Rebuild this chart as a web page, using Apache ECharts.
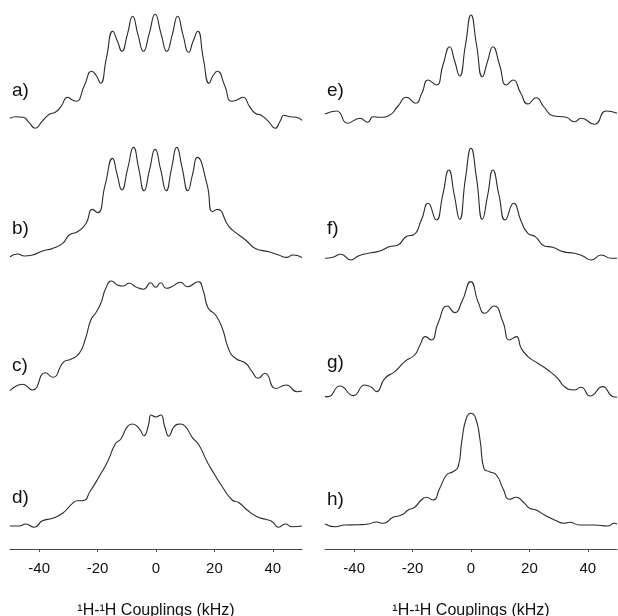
<!DOCTYPE html>
<html>
<head>
<meta charset="utf-8">
<script src="https://cdn.jsdelivr.net/npm/echarts@6/dist/echarts.min.js"></script>
<style>
  html, body { margin: 0; padding: 0; background: #fff; }
  #chart { width: 618px; height: 616px; }
</style>
</head>
<body>
<div id="chart"></div>
<script>
// Frequency axis ticks (kHz)
const tickValues = [-40, -20, 0, 20, 40];
const axisTitle = '\u00b9H-\u00b9H Couplings (kHz)';
const panelLabels = ['a)', 'b)', 'c)', 'd)', 'e)', 'f)', 'g)', 'h)'];

// Spectra: [coupling (kHz), intensity (arb. units)]
const specA = [[-50,0],[-48,1.5],[-45.5,1],[-43.5,-4],[-41.4,-10],[-39,-3],[-36.5,4],[-34.5,6],[-32.5,12],[-30.3,21],[-28.5,18],[-27.3,17],[-24.5,33],[-22,47],[-20.5,43],[-19,35],[-17,60],[-14.8,87],[-13.2,77],[-11.7,67],[-9.8,84],[-8,102],[-6.2,84],[-4.3,67],[-2.3,85],[-0.3,104],[1.7,85],[3.7,67],[5.6,84],[7.4,102],[9.2,84],[11.2,66],[12.7,77],[14.3,87],[16.2,60],[18.2,35],[19.6,43],[21,47],[23.5,33],[25.8,17],[27.5,18],[29.8,21],[32,12],[34,5],[36,3],[38.5,-3],[40.8,-10],[42.5,-3],[43.8,3],[46,1.5],[48,1],[50,-2]];
const specB = [[-50,0],[-47.4,2.7],[-45,0.7],[-42.3,1.7],[-38.9,5.7],[-35.4,8.3],[-32,13.3],[-29.7,21.7],[-26.9,25],[-24,33],[-21.8,47.3],[-20,44],[-17.4,72],[-14.9,98.3],[-13.3,82],[-11.7,66.7],[-9.7,88],[-7.7,109.3],[-5.9,88],[-4.1,66],[-2.2,87],[-0.3,107.3],[1.6,87],[3.5,66],[5.3,88],[7.1,109.3],[9,88],[10.9,66],[12.5,82],[14.1,99.3],[17.5,72],[19.3,45],[21,47.3],[25,30],[28.4,21.7],[30.7,16.7],[34,8.3],[38.6,5],[42,1.7],[44.9,-0.7],[46.8,1.7],[50,-0.7]];
const specC = [[-50,-0.7],[-45.7,5.7],[-42.3,0],[-37.9,17.3],[-35.4,12.7],[-31.5,28.3],[-29.2,30.7],[-26.3,36.7],[-24.3,50],[-22.3,70],[-20.6,77.3],[-18.9,86.7],[-17.2,101.7],[-15.2,109],[-13.2,105],[-11.3,104],[-9.2,106.7],[-7,103.3],[-4.3,100.7],[-1.8,107.3],[-0.1,102.7],[1.6,107.3],[3.5,101.7],[5.4,103.3],[8.4,107.7],[10.7,103.3],[14.5,108.3],[16.1,100],[17.9,81.7],[20.4,75],[22.7,61.7],[25,40],[27.2,31.7],[30.7,26.7],[32.9,18.3],[35,11.7],[37.3,16.7],[41,1.5],[44.6,5],[48.3,-1.7],[50,-1]];
const specD = [[-50,0],[-46.8,0],[-44.6,2],[-41.7,-1.3],[-38.9,5.3],[-35.4,7.7],[-32,12.7],[-28.6,22.7],[-26.9,25.3],[-25.2,25.3],[-22.3,36],[-19.5,49.3],[-16.6,64.3],[-13.8,82.7],[-12.1,86.7],[-9.8,99.3],[-8.1,102],[-5.8,97.7],[-4.1,90.3],[-2.7,99.3],[-1.6,111],[-0.1,109],[1.6,111],[3,99.3],[4.4,90],[6.2,99.3],[8.4,102],[10.1,99.3],[12.4,88.7],[14.7,81],[17.5,64.3],[19.8,52.7],[22.7,39.3],[26.1,26],[28.4,23.3],[31.2,16],[34.6,9.3],[37.5,6.7],[39.8,4.3],[42,-1.3],[44.3,2],[46.6,-0.7],[50,0]];
const specE = [[-50,1],[-46,4],[-42.3,-8.3],[-38,-3.3],[-35.4,-7.3],[-33.5,-1.7],[-31.2,-2.3],[-27.8,0],[-25,9],[-22.1,17.7],[-19,11.7],[-16.8,22],[-14.7,35],[-11.9,30],[-9.6,50],[-7.3,68.3],[-5.6,54],[-3.9,39],[-1.9,70],[0,100],[1.9,70],[3.9,38.3],[5.7,54],[7.5,68.3],[9.8,50],[12.1,30],[14.4,35],[17,22],[19.5,11],[22.3,17.3],[25,8],[28,-0.7],[32.6,-2.3],[35.4,-6.7],[37.7,-3.3],[42.3,-9.3],[46.3,4],[50,1.7]];
const specF = [[-50,0],[-47.3,1],[-44.6,4],[-41.1,-1.7],[-38.6,2.3],[-35.2,5],[-31.2,7.3],[-27.8,11.7],[-25.2,13],[-21.8,22.3],[-19.8,23.3],[-17,38.3],[-14.7,55],[-11.9,38.3],[-9.7,63],[-7.6,88.3],[-5.7,63],[-3.9,39],[-1.9,80],[0,110],[1.9,80],[3.9,39],[5.7,63],[7.5,88.3],[9.6,63],[11.7,38.3],[14.6,55],[17.2,36.7],[19.5,25],[22,21.7],[25.2,12.3],[28,11],[31.5,6.7],[35.4,5],[38.3,2.3],[41.1,-1.7],[44.6,3.3],[48,0],[50,0]];
const specG = [[-50,-3.3],[-48.9,-3.3],[-44.9,7.3],[-40.3,-2.3],[-36.4,8.3],[-34.1,6],[-32.4,1.7],[-29.5,15],[-26.1,21.7],[-22.7,31.7],[-19.3,38.3],[-17.5,48],[-15.6,56.7],[-13.6,53.3],[-11.3,70],[-8.1,87.3],[-5.6,80.7],[-3.1,91.7],[-0.1,111.7],[2.6,90],[4.7,80],[7.9,87.3],[10.9,71.7],[13.2,53.3],[15.5,56.7],[17.2,45],[19.5,36.7],[22.9,30],[26.3,23.3],[29.7,15],[32,6.7],[35.3,3.3],[37.7,6],[40.8,-2.7],[45.1,6.7],[48.5,-3.3],[50,-4]];
const specH = [[-50,1],[-46.6,-1.7],[-43.2,0],[-38.6,0.3],[-35.2,1],[-32.4,3],[-30.1,1.7],[-26.7,7.7],[-23.8,10],[-21.5,15],[-19.3,17.7],[-17,25],[-15.3,27.7],[-13,25],[-10.7,36.7],[-8.4,50],[-6.2,53.3],[-4.4,58.3],[-3.1,85],[-1.6,106.7],[0,111.7],[1.6,106.7],[3.1,85],[4.4,56.7],[6.4,53.3],[8.7,50],[10.9,36.7],[13.2,25.7],[15.5,27.7],[17.8,23.3],[20.1,16.7],[22.3,15],[25.2,10],[28.6,5],[32,1.7],[33.7,2.7],[37.2,0],[42.3,0],[46.8,-1],[49.1,1.7],[50,1]];

const spectra = [specA, specB, specC, specD, specE, specF, specG, specH];

// Panel layout: left column a-d, right column e-h
const colLeft = [10, 325];
const plotWidth = 292;
const zeroLine = [118.3, 256.7, 390, 526, 115, 258.3, 393.3, 525];
const labelY = [91, 229, 366, 498, 91, 229, 363, 500];
const axisLineY = 549;
const headroom = 115;
const fontFamily = 'Liberation Sans, Arial, Helvetica, sans-serif';

const grids = [], xAxes = [], yAxes = [], series = [], labels = [];
spectra.forEach((spec, i) => {
  const col = i < 4 ? 0 : 1;
  const isBottom = i % 4 === 3;
  const top = zeroLine[i] - headroom;
  const height = isBottom ? axisLineY - top : 130;
  grids.push({ left: colLeft[col], width: plotWidth, top: top, height: height, outerBoundsMode: 'none', containLabel: false });
  xAxes.push({
    type: 'value', gridIndex: i, min: -50, max: 50,
    show: isBottom,
    axisLine: { show: true, onZero: false, lineStyle: { color: '#4a4a4a', width: 1 } },
    axisTick: { show: true, length: 3, customValues: tickValues, lineStyle: { color: '#4a4a4a' } },
    axisLabel: { customValues: tickValues, fontSize: 15, color: '#111', margin: 12, fontFamily: fontFamily },
    splitLine: { show: false },
    name: isBottom ? axisTitle : '',
    nameLocation: 'middle', nameGap: 54,
    nameTextStyle: { fontSize: 16, color: '#111', fontFamily: fontFamily }
  });
  yAxes.push({ type: 'value', gridIndex: i, min: -(height - headroom), max: headroom, show: false });
  series.push({
    type: 'line', xAxisIndex: i, yAxisIndex: i, data: spec,
    showSymbol: false, smooth: 0.55,
    lineStyle: { color: '#2a2a2a', width: 1.1 }, silent: true
  });
  labels.push({
    type: 'text', x: colLeft[col] + 2, y: labelY[i],
    style: { text: panelLabels[i], fontSize: 19, fill: '#111', fontFamily: fontFamily, verticalAlign: 'middle' }
  });
});

const chart = echarts.init(document.getElementById('chart'), null, { renderer: 'canvas' });
chart.setOption({
  animation: false,
  backgroundColor: '#fff',
  grid: grids,
  xAxis: xAxes,
  yAxis: yAxes,
  series: series,
  graphic: labels
});
</script>
</body>
</html>
